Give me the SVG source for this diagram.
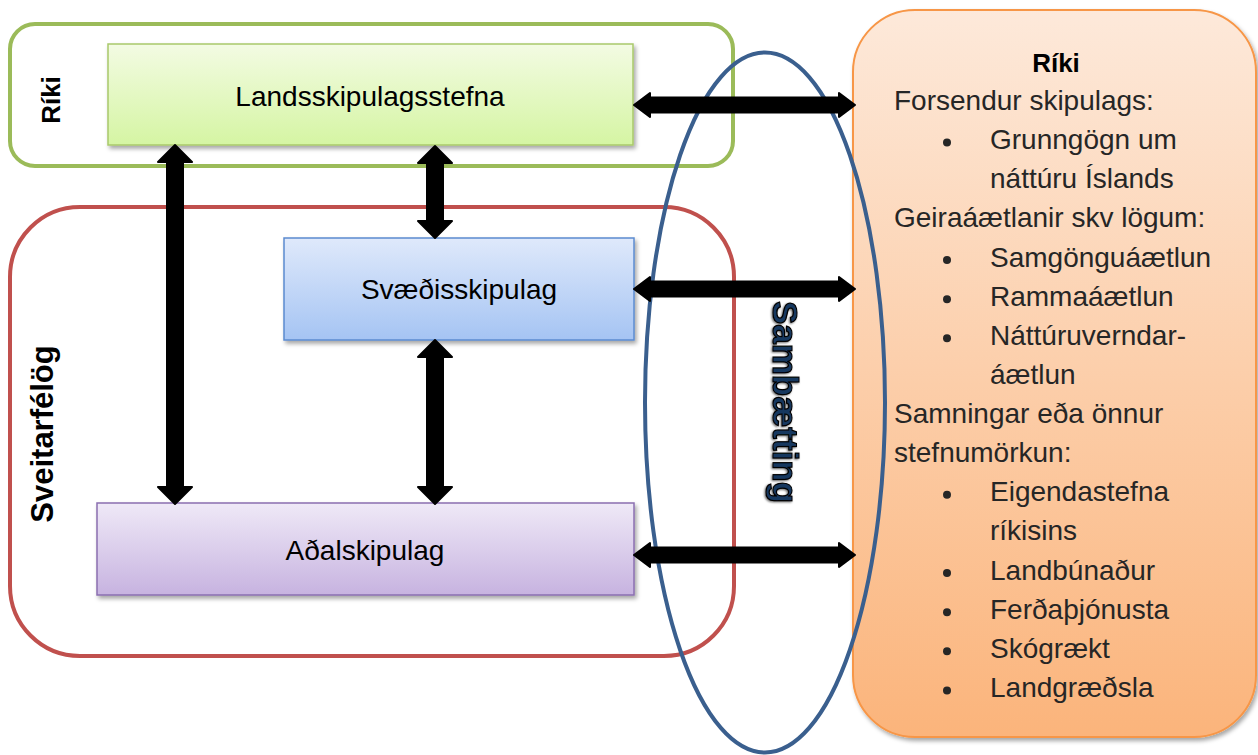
<svg xmlns="http://www.w3.org/2000/svg" width="1258" height="755" viewBox="0 0 1258 755">
  <defs>
    <linearGradient id="gGreen" x1="0" y1="0" x2="0" y2="1">
      <stop offset="0" stop-color="#F3FBE3"/>
      <stop offset="1" stop-color="#D5F5A3"/>
    </linearGradient>
    <linearGradient id="gBlue" x1="0" y1="0" x2="0" y2="1">
      <stop offset="0" stop-color="#DFE9FB"/>
      <stop offset="1" stop-color="#A5C4F3"/>
    </linearGradient>
    <linearGradient id="gPurple" x1="0" y1="0" x2="0" y2="1">
      <stop offset="0" stop-color="#EFE9F7"/>
      <stop offset="1" stop-color="#C7B3E0"/>
    </linearGradient>
    <linearGradient id="gOrange" x1="0" y1="0" x2="0" y2="1">
      <stop offset="0" stop-color="#FDE9DA"/>
      <stop offset="1" stop-color="#FBB47B"/>
    </linearGradient>
    <filter id="shadow" x="-10%" y="-10%" width="120%" height="130%">
      <feDropShadow dx="2" dy="3" stdDeviation="2" flood-color="#000" flood-opacity="0.35"/>
    </filter>
    <filter id="tshadow" x="-10%" y="-10%" width="130%" height="120%">
      <feDropShadow dx="1" dy="1" stdDeviation="1.2" flood-color="#000" flood-opacity="0.6"/>
    </filter>
  </defs>
  <style>
    .group { fill: #FFFFFF; stroke-width: 4; }
    .node { stroke-width: 1.5; filter: url(#shadow); }
    .lbl { font-family: "Liberation Sans", Arial, sans-serif; font-size: 28px; fill: #000; text-anchor: middle; }
    .side { font-family: "Liberation Sans", Arial, sans-serif; font-weight: bold; fill: #000; text-anchor: middle; }
    .rt { font-family: "Liberation Sans", Arial, sans-serif; font-size: 28px; fill: #262626; }
    .arrow { fill: #000; stroke: #000; stroke-width: 2; stroke-linejoin: round; }
    .bul { fill: #262626; }
  </style>

  <g id="riki-group">
    <rect x="10" y="24" width="723" height="142" rx="25" ry="25" class="group" stroke="#9BBB59"/>
    <text class="side" font-size="26" transform="translate(60,100) rotate(-90)">Ríki</text>
  </g>

  <g id="sveitarfelog-group">
    <rect x="10" y="207" width="724" height="449" rx="70" ry="70" class="group" stroke="#C0504D"/>
    <text class="side" font-size="31" transform="translate(53,434) rotate(-90)">Sveitarfélög</text>
  </g>

  <g id="riki-panel">
    <rect x="853" y="10" width="403" height="727" rx="62" ry="62" fill="url(#gOrange)" stroke="#F79646" stroke-width="2" filter="url(#shadow)"/>
    <text x="1056" y="72" class="side" font-size="26">Ríki</text>
    <text x="894" y="110" class="rt">Forsendur skipulags:</text>
    <circle cx="947" cy="142.6" r="4" class="bul"/>
    <text x="990" y="149.1" class="rt">Grunngögn um</text>
    <text x="990" y="188.3" class="rt">náttúru Íslands</text>
    <text x="894" y="227.4" class="rt">Geiraáætlanir skv lögum:</text>
    <circle cx="947" cy="260" r="4" class="bul"/>
    <text x="990" y="266.5" class="rt">Samgönguáætlun</text>
    <circle cx="947" cy="299.2" r="4" class="bul"/>
    <text x="990" y="305.7" class="rt">Rammaáætlun</text>
    <circle cx="947" cy="338.3" r="4" class="bul"/>
    <text x="990" y="344.8" class="rt">Náttúruverndar-</text>
    <text x="990" y="383.9" class="rt">áætlun</text>
    <text x="894" y="423" class="rt">Samningar eða önnur</text>
    <text x="894" y="462.2" class="rt">stefnumörkun:</text>
    <circle cx="947" cy="494.8" r="4" class="bul"/>
    <text x="990" y="501.3" class="rt">Eigendastefna</text>
    <text x="990" y="540.4" class="rt">ríkisins</text>
    <circle cx="947" cy="573.1" r="4" class="bul"/>
    <text x="990" y="579.6" class="rt">Landbúnaður</text>
    <circle cx="947" cy="612.2" r="4" class="bul"/>
    <text x="990" y="618.7" class="rt">Ferðaþjónusta</text>
    <circle cx="947" cy="651.3" r="4" class="bul"/>
    <text x="990" y="657.8" class="rt">Skógrækt</text>
    <circle cx="947" cy="690.5" r="4" class="bul"/>
    <text x="990" y="697" class="rt">Landgræðsla</text>
  </g>

  <g id="sambaetting">
    <ellipse cx="765" cy="402.5" rx="120" ry="350" fill="none" stroke="#3A5F8E" stroke-width="4"/>
    <text class="side" font-size="35" fill="#17375E" stroke="#000" stroke-width="1.2" filter="url(#tshadow)" style="fill:#17375E" transform="translate(773,402) rotate(90)">Sambætting</text>
  </g>

  <g id="landsskipulagsstefna">
    <rect x="108" y="44" width="525" height="101" class="node" fill="url(#gGreen)" stroke="#A9C96B"/>
    <text x="370" y="106" class="lbl">Landsskipulagsstefna</text>
  </g>

  <g id="svaedisskipulag">
    <rect x="284" y="238" width="350" height="102" class="node" fill="url(#gBlue)" stroke="#5B8BD0"/>
    <text x="459" y="299" class="lbl">Svæðisskipulag</text>
  </g>

  <g id="adalskipulag">
    <rect x="97" y="503" width="537" height="92" class="node" fill="url(#gPurple)" stroke="#8A6FB0"/>
    <text x="365" y="560" class="lbl">Aðalskipulag</text>
  </g>

  <g id="connectors">
    <polygon class="arrow" points="175,145 192,162 183,162 183,487 192,487 175,504 158,487 167,487 167,162 158,162"/>
    <polygon class="arrow" points="435,146 452,163 443,163 443,221 452,221 435,238 418,221 427,221 427,163 418,163"/>
    <polygon class="arrow" points="435,340 452,357 443,357 443,487 452,487 435,504 418,487 427,487 427,357 418,357"/>
    <polygon class="arrow" points="634,105 650,93 650,97.5 839,97.5 839,93 855,105 839,117 839,112.5 650,112.5 650,117"/>
    <polygon class="arrow" points="634,289 650,277 650,281.5 839,281.5 839,277 855,289 839,301 839,296.5 650,296.5 650,301"/>
    <polygon class="arrow" points="634,555 650,543 650,547.5 839,547.5 839,543 855,555 839,567 839,562.5 650,562.5 650,567"/>
  </g>
</svg>
